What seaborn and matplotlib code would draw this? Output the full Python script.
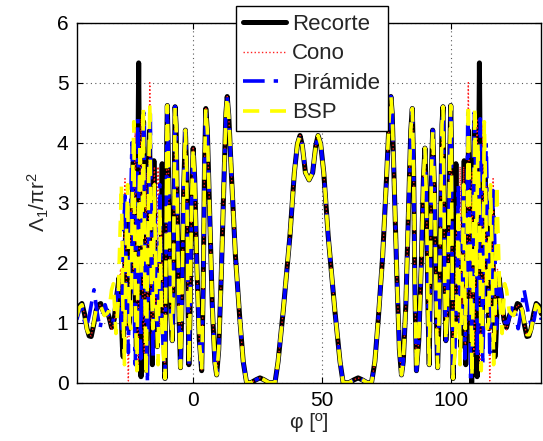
import matplotlib
matplotlib.use('Agg')
import matplotlib.pyplot as plt
import pandas as pd
import seaborn as sns

# ---------------- data ----------------
series_names = ['Recorte', 'Cono', 'Pirámide', 'BSP']
x_ticks = [0, 50, 100]
y_ticks = [0, 1, 2, 3, 4, 5, 6]

# part common to all four methods
phi_center = [-10.8, -10.4, -10.1, -9.9, -9.6, -9.1, -8.5, -8.0, -7.6, -7.2, -6.9, -6.5, -6.0, -5.3,
              -4.8, -4.3, -3.6, -2.9, -2.4, -1.9, -1.55, -1.1, -0.5, 0.1, 0.7, 1.5, 2.5, 3.4, 4.0,
              4.5, 5.0, 5.6, 6.5, 7.5, 8.5, 9.2, 10.0, 11.0, 12.0, 12.8, 13.3, 13.9, 15.0, 16.5,
              18.2, 19.5, 20.8, 22.5, 24.5, 26.0, 27.5, 29.5, 31.8, 33.0, 35.0, 37.6, 39.3, 40.5,
              41.5, 42.4, 43.6, 45.0,
              46.4, 47.6, 48.5, 49.5, 50.7, 52.4, 55.0, 57.0, 58.2, 60.5, 62.5, 64.0, 65.5, 67.5,
              69.2, 70.5, 71.8, 73.5, 75.0, 76.1, 76.7, 77.2, 78.0, 79.0, 80.0, 80.8, 81.5, 82.5,
              83.5, 84.4, 85.0, 85.5, 86.0, 86.6, 87.5, 88.5, 89.3, 89.9, 90.5, 91.1, 91.55, 91.9,
              92.4, 92.9, 93.6, 94.3, 94.8, 95.3, 96.0, 96.5, 96.9, 97.2, 97.6, 98.0, 98.5, 99.1,
              99.6, 99.9, 100.1, 100.4, 100.8]
lam_center = [0.07, 2.2, 4.1, 4.62, 4.0, 2.4, 1.1, 0.7, 1.5, 3.4, 4.6, 4.3, 2.8, 1.0,
              0.25, 1.2, 3.2, 4.21, 3.5, 1.4, 0.3, 1.2, 3.0, 3.91, 3.4, 2.0, 0.7, 0.2, 1.6,
              3.6, 4.57, 4.2, 2.8, 1.3, 0.35, 0.13, 0.55, 1.8, 3.3, 4.5, 4.77, 4.45, 3.4, 2.1,
              1.05, 0.35, 0.0, 0.0, 0.05, 0.08, 0.05, 0.0, 0.0, 0.35, 1.2, 2.45, 3.5, 3.98,
              4.12, 3.95, 3.5, 3.38,
              3.5, 3.95, 4.12, 3.98, 3.5, 2.45, 1.2, 0.35, 0.0, 0.0, 0.05, 0.08, 0.05, 0.0,
              0.0, 0.35, 1.05, 2.1, 3.4, 4.45, 4.77, 4.5, 3.3, 1.8, 0.55, 0.13, 0.35, 1.3,
              2.8, 4.2, 4.57, 3.6, 1.6, 0.2, 0.7, 2.0, 3.4, 3.91, 3.0, 1.2, 0.3, 1.4,
              3.5, 4.21, 3.2, 1.2, 0.25, 1.0, 2.8, 4.3, 4.6, 3.4, 1.5, 0.7, 1.1, 2.4,
              4.0, 4.62, 4.1, 2.2, 0.07]

# Recorte
phi_recorte_left = [-45.0, -44.0, -43.0, -42.0, -41.0, -40.2, -39.4, -38.5, -37.5, -36.5, -35.7, -35.0,
                    -34.3, -33.3, -32.5, -31.5, -30.5, -29.5, -28.6, -28.0, -27.3, -27.0, -26.5, -25.9,
                    -25.3, -24.7, -24.0, -23.1, -22.5, -21.9, -21.5, -21.0, -20.5, -20.1, -19.6, -19.1,
                    -18.5, -18.0, -17.4, -16.8, -16.2, -15.7, -15.1, -14.5, -13.8, -13.2, -12.6, -11.9,
                    -11.3]
lam_recorte_left = [1.15, 1.28, 1.32, 1.15, 0.9, 0.78, 0.77, 0.95, 1.2, 1.3, 1.32, 1.22,
                    1.15, 1.2, 1.1, 0.92, 1.05, 1.45, 1.75, 1.4, 0.6, 0.43, 1.6, 2.9,
                    1.7, 0.9, 2.3, 3.68, 2.0, 0.6, 2.5, 5.33, 2.2, 0.1, 2.5, 4.35,
                    1.8, 0.2, 2.8, 4.2, 1.8, 0.3, 3.7, 1.5, 0.6, 2.0, 1.0, 3.65,
                    1.0]
phi_recorte_right = [101.3, 101.9, 102.6, 103.2, 103.8, 104.5, 105.1, 105.7, 106.2, 106.8, 107.4, 108.0,
                     108.5, 109.1, 109.6, 110.1, 110.5, 111.0, 111.5, 111.9, 112.5, 113.1, 114.0, 114.7,
                     115.3, 115.9, 116.5, 117.0, 117.3, 118.0, 118.6, 119.5, 120.5, 121.5, 122.5, 123.3,
                     124.3, 125.0, 125.7, 126.5, 127.5, 128.5, 129.4, 130.2, 131.0, 132.0, 133.0, 134.0,
                     135.0]
lam_recorte_right = [1.0, 3.65, 1.0, 2.0, 0.6, 1.5, 3.7, 0.3, 1.8, 4.2, 2.8, 0.0,
                     1.8, 4.35, 2.5, 0.1, 2.2, 5.33, 2.5, 0.6, 2.0, 3.68, 2.3, 0.9,
                     1.7, 2.9, 1.6, 0.43, 0.6, 1.4, 1.75, 1.45, 1.05, 0.92, 1.1, 1.2,
                     1.15, 1.22, 1.32, 1.3, 1.2, 0.95, 0.77, 0.78, 0.9, 1.15, 1.32, 1.28,
                     1.15]

# Cono
phi_cono_left = [-45.0, -44.0, -43.0, -42.0, -41.0, -40.2, -39.4, -38.5, -37.5, -36.5, -35.7, -35.0,
                 -34.3, -33.3, -32.5, -31.5, -30.5, -29.5, -28.6, -28.0, -27.3, -26.8, -26.3, -25.6,
                 -25.0, -24.4, -23.7, -23.0, -22.4, -21.7, -21.2, -20.6, -20.0, -19.4, -18.8, -18.2,
                 -17.5, -16.7, -16.1, -15.5, -14.9, -14.3, -13.5, -12.9, -12.3, -11.6]
lam_cono_left = [1.12, 1.25, 1.3, 1.15, 0.92, 0.8, 0.78, 0.95, 1.18, 1.28, 1.3, 1.2,
                 1.12, 1.15, 1.05, 0.88, 1.0, 1.3, 1.6, 1.9, 0.8, 2.2, 3.4, 1.2,
                 0.03, 1.8, 3.3, 1.5, 4.3, 1.0, 0.3, 3.0, 4.4, 1.2, 0.5, 3.5,
                 0.9, 5.0, 1.0, 0.6, 3.6, 1.3, 3.6, 0.8, 2.8, 1.4]
phi_cono_right = [101.6, 102.3, 102.9, 103.5, 104.3, 104.9, 105.5, 106.1, 106.7, 107.5, 108.2, 108.8,
                  109.4, 110.0, 110.6, 111.2, 111.7, 112.4, 113.0, 113.7, 114.4, 115.0, 115.6, 116.3,
                  116.8, 117.3, 118.0, 118.6, 119.5, 120.5, 121.5, 122.5, 123.3, 124.3, 125.0, 125.7,
                  126.5, 127.5, 128.5, 129.4, 130.2, 131.0, 132.0, 133.0, 134.0, 135.0]
lam_cono_right = [1.4, 2.8, 0.8, 3.6, 1.3, 3.6, 0.6, 1.0, 5.0, 0.9, 3.5, 0.5,
                  1.2, 4.4, 3.0, 0.3, 1.0, 4.3, 1.5, 3.3, 1.8, 0.03, 1.2, 3.4,
                  2.2, 0.8, 1.9, 1.6, 1.3, 1.0, 0.88, 1.05, 1.15, 1.12, 1.2, 1.3,
                  1.28, 1.18, 0.95, 0.78, 0.8, 0.92, 1.15, 1.3, 1.25, 1.12]

# Pirámide
phi_piramide_left = [-45.0, -44.0, -43.2, -42.2, -41.2, -40.0, -38.3, -37.2, -36.0, -35.0, -34.0, -33.0,
                     -32.0, -31.0, -30.0, -29.0, -28.3, -27.6, -26.9, -26.3, -25.7, -25.0, -24.3, -23.6,
                     -22.9, -22.3, -21.8, -21.3, -20.7, -20.2, -19.6, -19.0, -18.4, -17.6, -17.0, -16.5,
                     -15.9, -15.4, -14.8, -14.1, -13.5, -12.8, -12.2, -11.5]
lam_piramide_left = [1.05, 1.2, 1.3, 1.05, 0.92, 1.15, 1.55, 1.2, 0.9, 1.15, 1.3, 1.15,
                     1.0, 1.0, 1.3, 1.6, 1.5, 0.9, 2.4, 3.2, 1.4, 0.5, 2.6, 4.0,
                     1.6, 0.3, 2.9, 4.4, 1.5, 0.4, 3.4, 4.5, 1.8, 0.0, 3.0, 4.5,
                     1.6, 0.4, 3.2, 1.2, 0.9, 3.3, 1.2, 0.6]
phi_piramide_right = [101.5, 102.2, 102.8, 103.5, 104.1, 104.8, 105.4, 105.9, 106.5, 107.0, 107.6, 108.4,
                      109.0, 109.6, 110.2, 110.7, 111.3, 111.8, 112.3, 112.9, 113.6, 114.3, 115.0, 115.7,
                      116.3, 116.9, 117.6, 118.3, 119.0, 120.0, 121.0, 122.0, 123.0, 124.0, 125.0, 126.0,
                      127.2, 128.3, 130.0, 131.2, 132.2, 133.2, 134.0, 135.0]
lam_piramide_right = [0.6, 1.2, 3.3, 0.9, 1.2, 3.2, 0.4, 1.6, 4.5, 3.0, 0.0, 1.8,
                      4.5, 3.4, 0.4, 1.5, 4.4, 2.9, 0.3, 1.6, 4.0, 2.6, 0.5, 1.4,
                      3.2, 2.4, 0.9, 1.5, 1.6, 1.3, 1.0, 1.0, 1.15, 1.3, 1.15, 0.9,
                      1.2, 1.55, 1.15, 0.92, 1.05, 1.3, 1.2, 1.05]

# BSP
phi_bsp_left = [-45.0, -44.0, -43.0, -42.0, -41.0, -40.2, -39.4, -38.5, -37.5, -36.5, -35.7, -35.0,
                -34.3, -33.3, -32.5, -31.5, -30.8, -29.8, -29.0, -28.3, -27.7, -27.1, -26.5, -25.9,
                -25.3, -24.6, -24.0, -23.5, -22.9, -22.3, -21.7, -21.1, -20.4, -19.8, -19.2, -18.6,
                -18.1, -17.4, -16.7, -16.1, -15.5, -14.9, -14.2, -13.5, -12.8, -12.2, -11.5]
lam_bsp_left = [1.1, 1.25, 1.3, 1.12, 0.88, 0.8, 0.8, 0.98, 1.22, 1.3, 1.28, 1.2,
                1.12, 1.15, 1.2, 1.55, 1.65, 0.82, 1.3, 2.4, 3.3, 1.2, 0.3, 2.2,
                3.3, 1.0, 0.9, 3.0, 4.35, 1.3, 0.2, 2.6, 4.0, 1.8, 4.6, 1.5,
                0.1, 2.5, 4.65, 1.7, 0.9, 3.3, 1.3, 0.3, 2.9, 1.2, 0.5]
phi_bsp_right = [101.5, 102.2, 102.8, 103.5, 104.2, 104.9, 105.5, 106.1, 106.7, 107.4, 108.1, 108.6,
                 109.2, 109.8, 110.4, 111.1, 111.7, 112.3, 112.9, 113.5, 114.0, 114.6, 115.3, 115.9,
                 116.5, 117.1, 117.7, 118.3, 119.0, 119.8, 120.8, 121.5, 122.5, 123.3, 124.3, 125.0,
                 125.7, 126.5, 127.5, 128.5, 129.4, 130.2, 131.0, 132.0, 133.0, 134.0, 135.0]
lam_bsp_right = [0.5, 1.2, 2.9, 0.3, 1.3, 3.3, 0.9, 1.7, 4.65, 2.5, 0.1, 1.5,
                 4.6, 1.8, 4.0, 2.6, 0.2, 1.3, 4.35, 3.0, 0.9, 1.0, 3.3, 2.2,
                 0.3, 1.2, 3.3, 2.4, 1.3, 0.82, 1.65, 1.55, 1.2, 1.15, 1.12, 1.2,
                 1.28, 1.3, 1.22, 0.98, 0.8, 0.8, 0.88, 1.12, 1.3, 1.25, 1.1]

# ---------------- build tables ----------------
def make_df(name, pl, ll, pr, lr):
    return pd.DataFrame({'phi': pl + phi_center + pr,
                         'lam': ll + lam_center + lr,
                         'metodo': name})

frames = [
    make_df('Recorte', phi_recorte_left, lam_recorte_left, phi_recorte_right, lam_recorte_right),
    make_df('Cono', phi_cono_left, lam_cono_left, phi_cono_right, lam_cono_right),
    make_df('Pirámide', phi_piramide_left, lam_piramide_left, phi_piramide_right, lam_piramide_right),
    make_df('BSP', phi_bsp_left, lam_bsp_left, phi_bsp_right, lam_bsp_right),
]

styles = {
    'Recorte': dict(color='black', linestyle='-', linewidth=3.6),
    'Cono': dict(color='#ff2020', linestyle=':', linewidth=1.0),
    'Pirámide': dict(color='#0000ff', linestyle=(0, (6, 2.5, 1.2, 2.5)), linewidth=2.6),
    'BSP': dict(color='#ffff00', linestyle=(0, (4.5, 3.0)), linewidth=2.6),
}

# ---------------- plot ----------------
sns.set_style('ticks')
plt.rcParams['font.family'] = ['Liberation Sans', 'DejaVu Sans']
plt.rcParams['mathtext.default'] = 'regular'

fig = plt.figure(figsize=(5.43, 4.41), dpi=100)
ax = fig.add_axes([0.1413, 0.1322, 0.8557, 0.8163])

for df in frames:
    name = df['metodo'].iloc[0]
    sns.lineplot(data=df, x='phi', y='lam', ax=ax, label=name, sort=False,
                 estimator=None, **styles[name])

ax.set_xlim(-45, 135)
ax.set_ylim(0, 6)
ax.set_xticks(x_ticks)
ax.set_yticks(y_ticks)
ax.grid(True, linestyle=(0, (1, 3)), color='0.35', linewidth=0.8)
ax.tick_params(direction='in', length=4, width=0.8, labelsize=15, top=True, right=True,
               colors='black', pad=6)
for s in ax.spines.values():
    s.set_visible(True)
    s.set_color('black')
    s.set_linewidth(1.0)

ax.set_xlabel('φ [º]', fontsize=15, labelpad=2)
ax.set_ylabel('Λ$_1$/πr$^2$', fontsize=15, labelpad=4)

leg = ax.legend(loc='upper left', bbox_to_anchor=(0.434, 0.986), bbox_transform=fig.transFigure,
                fontsize=16, frameon=True, fancybox=False, edgecolor='black', framealpha=1,
                handlelength=1.9, handletextpad=0.3, labelspacing=0.38, borderpad=0.35,
                borderaxespad=0)
leg.get_frame().set_linewidth(1.0)
leg.set_zorder(10)

fig.savefig('out.png', dpi=100)
